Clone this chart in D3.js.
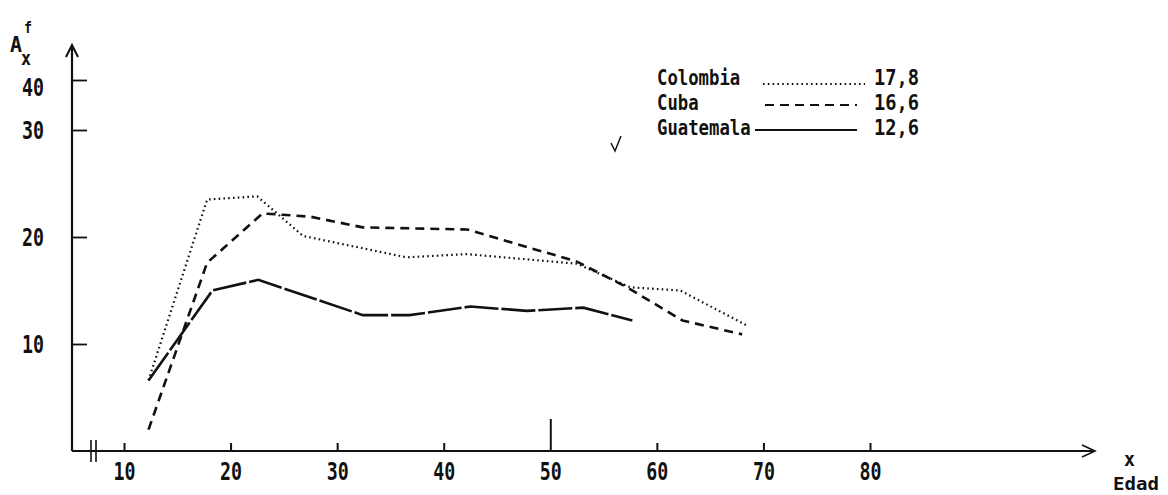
<!DOCTYPE html>
<html>
<head>
<meta charset="utf-8">
<script src="https://cdn.jsdelivr.net/npm/d3@7"></script>
<style>
  html, body { margin: 0; padding: 0; background: #fff; }
  svg text { font-family: "DejaVu Sans Mono", monospace; font-weight: bold; fill: #111; }
</style>
</head>
<body>
<div id="chart"></div>
<script>
// --- Data ---
const xTicks = [10, 20, 30, 40, 50, 60, 70, 80];
const yTicks = [10, 20, 30, 40];

const colombiaAge = [12.3, 17.8, 22.5, 26.8, 36.5, 42.2, 52.5, 57.5, 62.2, 68.5];
const colombiaVal = [6.6, 23.5, 23.8, 20.1, 18.1, 18.4, 17.5, 15.3, 15.0, 11.7];

const cubaAge = [12.3, 17.8, 23.0, 27.5, 32.4, 42.2, 52.5, 57.2, 62.4, 68.0];
const cubaVal = [2.0, 17.6, 22.2, 21.9, 20.9, 20.7, 17.7, 15.3, 12.2, 10.9];

const guatemalaAge = [12.3, 18.3, 22.6, 32.4, 36.8, 42.5, 47.8, 53.1, 57.7];
const guatemalaVal = [6.6, 15.0, 16.0, 12.7, 12.7, 13.5, 13.1, 13.4, 12.2];

const legendNames = ["Colombia", "Cuba", "Guatemala"];
const legendValues = ["17,8", "16,6", "12,6"];

// --- Layout ---
const width = 1168, height = 495;
const axisX = 72, axisY = 451;
const charW = 10.4;

const svg = d3.select("#chart")
  .append("svg")
  .attr("width", width)
  .attr("height", height);

// y axis is squeezed between 30 and 40 in the original
const x = d3.scaleLinear().domain([10, 80]).range([124, 870]);
const y = d3.scaleLinear().domain([0, 10, 20, 30, 40]).range([axisY, 344, 237, 130, 80]);

// Axis lines with arrows
svg.append("line")
  .attr("x1", axisX).attr("x2", axisX)
  .attr("y1", 46).attr("y2", axisY)
  .attr("stroke", "#111").attr("stroke-width", 2.2);
svg.append("path")
  .attr("d", `M${axisX - 6},57 L${axisX},45 L${axisX + 6},57`)
  .attr("fill", "none").attr("stroke", "#111").attr("stroke-width", 2);
svg.append("line")
  .attr("x1", axisX).attr("x2", 1094)
  .attr("y1", axisY).attr("y2", axisY)
  .attr("stroke", "#111").attr("stroke-width", 2);
svg.append("path")
  .attr("d", `M1082,445 L1095,451 L1082,457`)
  .attr("fill", "none").attr("stroke", "#111").attr("stroke-width", 1.6);

// Axis break
[91, 96].forEach(bx => {
  svg.append("line")
    .attr("x1", bx).attr("x2", bx)
    .attr("y1", 440).attr("y2", 462)
    .attr("stroke", "#111").attr("stroke-width", 1.6);
});

// X axis ticks + labels
const xAxis = d3.axisBottom(x)
  .tickValues(xTicks)
  .tickSizeInner(-8)
  .tickSizeOuter(0)
  .tickPadding(11)
  .tickFormat(d3.format("d"));
const gx = svg.append("g")
  .attr("transform", `translate(0,${axisY})`)
  .call(xAxis);
gx.select(".domain").remove();
gx.selectAll(".tick line").attr("stroke", "#111").attr("stroke-width", 2)
  .filter(d => d === 50).attr("y2", -32);
gx.selectAll(".tick text")
  .attr("font-size", 25)
  .attr("fill", "#111")
  .attr("textLength", 22)
  .attr("lengthAdjust", "spacingAndGlyphs");

// Y axis ticks + labels
const yAxis = d3.axisLeft(y)
  .tickValues(yTicks)
  .tickSizeInner(-15)
  .tickSizeOuter(0)
  .tickPadding(28)
  .tickFormat(d3.format("d"));
const gy = svg.append("g")
  .attr("transform", `translate(${axisX},0)`)
  .call(yAxis);
gy.select(".domain").remove();
gy.selectAll(".tick line").attr("stroke", "#111").attr("stroke-width", 1.8);
gy.selectAll(".tick text")
  .attr("font-size", 25)
  .attr("fill", "#111")
  .attr("textLength", 22)
  .attr("lengthAdjust", "spacingAndGlyphs")
  .filter(d => d === 40).attr("dy", "0.62em");

// Axis titles
svg.append("text").attr("x", 10).attr("y", 52).attr("font-size", 22)
  .attr("textLength", 12).attr("lengthAdjust", "spacingAndGlyphs").text("A");
svg.append("text").attr("x", 24).attr("y", 33).attr("font-size", 16)
  .attr("textLength", 8).attr("lengthAdjust", "spacingAndGlyphs").text("f");
svg.append("text").attr("x", 21).attr("y", 65).attr("font-size", 19)
  .attr("textLength", 10).attr("lengthAdjust", "spacingAndGlyphs").text("x");
svg.append("text").attr("x", 1124).attr("y", 466).attr("font-size", 19)
  .attr("textLength", 11).attr("lengthAdjust", "spacingAndGlyphs").text("x");
svg.append("text").attr("x", 1113).attr("y", 490).attr("font-size", 18)
  .attr("textLength", 46).attr("lengthAdjust", "spacingAndGlyphs").text("Edad");

// Series
const series = [
  { age: colombiaAge, val: colombiaVal, dash: "1.6,3.2", sw: 2.2 },
  { age: cubaAge, val: cubaVal, dash: "9,6", sw: 2.6 },
  { age: guatemalaAge, val: guatemalaVal, dash: "34,3", sw: 2.6 }
];
const line = d3.line()
  .x(d => x(d[0]))
  .y(d => y(d[1]));
series.forEach(s => {
  svg.append("path")
    .datum(d3.zip(s.age, s.val))
    .attr("fill", "none")
    .attr("stroke", "#111")
    .attr("stroke-width", s.sw)
    .attr("stroke-dasharray", s.dash)
    .attr("d", line);
});

// Legend
const legendRowY = [85, 110, 135];
const legendLine = [[763, 865], [765, 857], [755, 857]];
legendNames.forEach((name, i) => {
  svg.append("text")
    .attr("x", 657).attr("y", legendRowY[i])
    .attr("font-size", 21)
    .attr("textLength", name.length * charW)
    .attr("lengthAdjust", "spacingAndGlyphs")
    .text(name);
  svg.append("line")
    .attr("x1", legendLine[i][0]).attr("x2", legendLine[i][1])
    .attr("y1", legendRowY[i] - (i === 0 ? 1 : 5))
    .attr("y2", legendRowY[i] - (i === 0 ? 1 : 5))
    .attr("stroke", "#111")
    .attr("stroke-width", series[i].sw * 0.8)
    .attr("stroke-dasharray", i === 2 ? null : series[i].dash);
  svg.append("text")
    .attr("x", 874).attr("y", legendRowY[i])
    .attr("font-size", 21)
    .attr("textLength", 45)
    .attr("lengthAdjust", "spacingAndGlyphs")
    .text(legendValues[i]);
});

// Check mark beside the legend
svg.append("path")
  .attr("d", "M611,143 L615,151 L621,136")
  .attr("fill", "none").attr("stroke", "#111").attr("stroke-width", 1.5);
</script>
</body>
</html>
